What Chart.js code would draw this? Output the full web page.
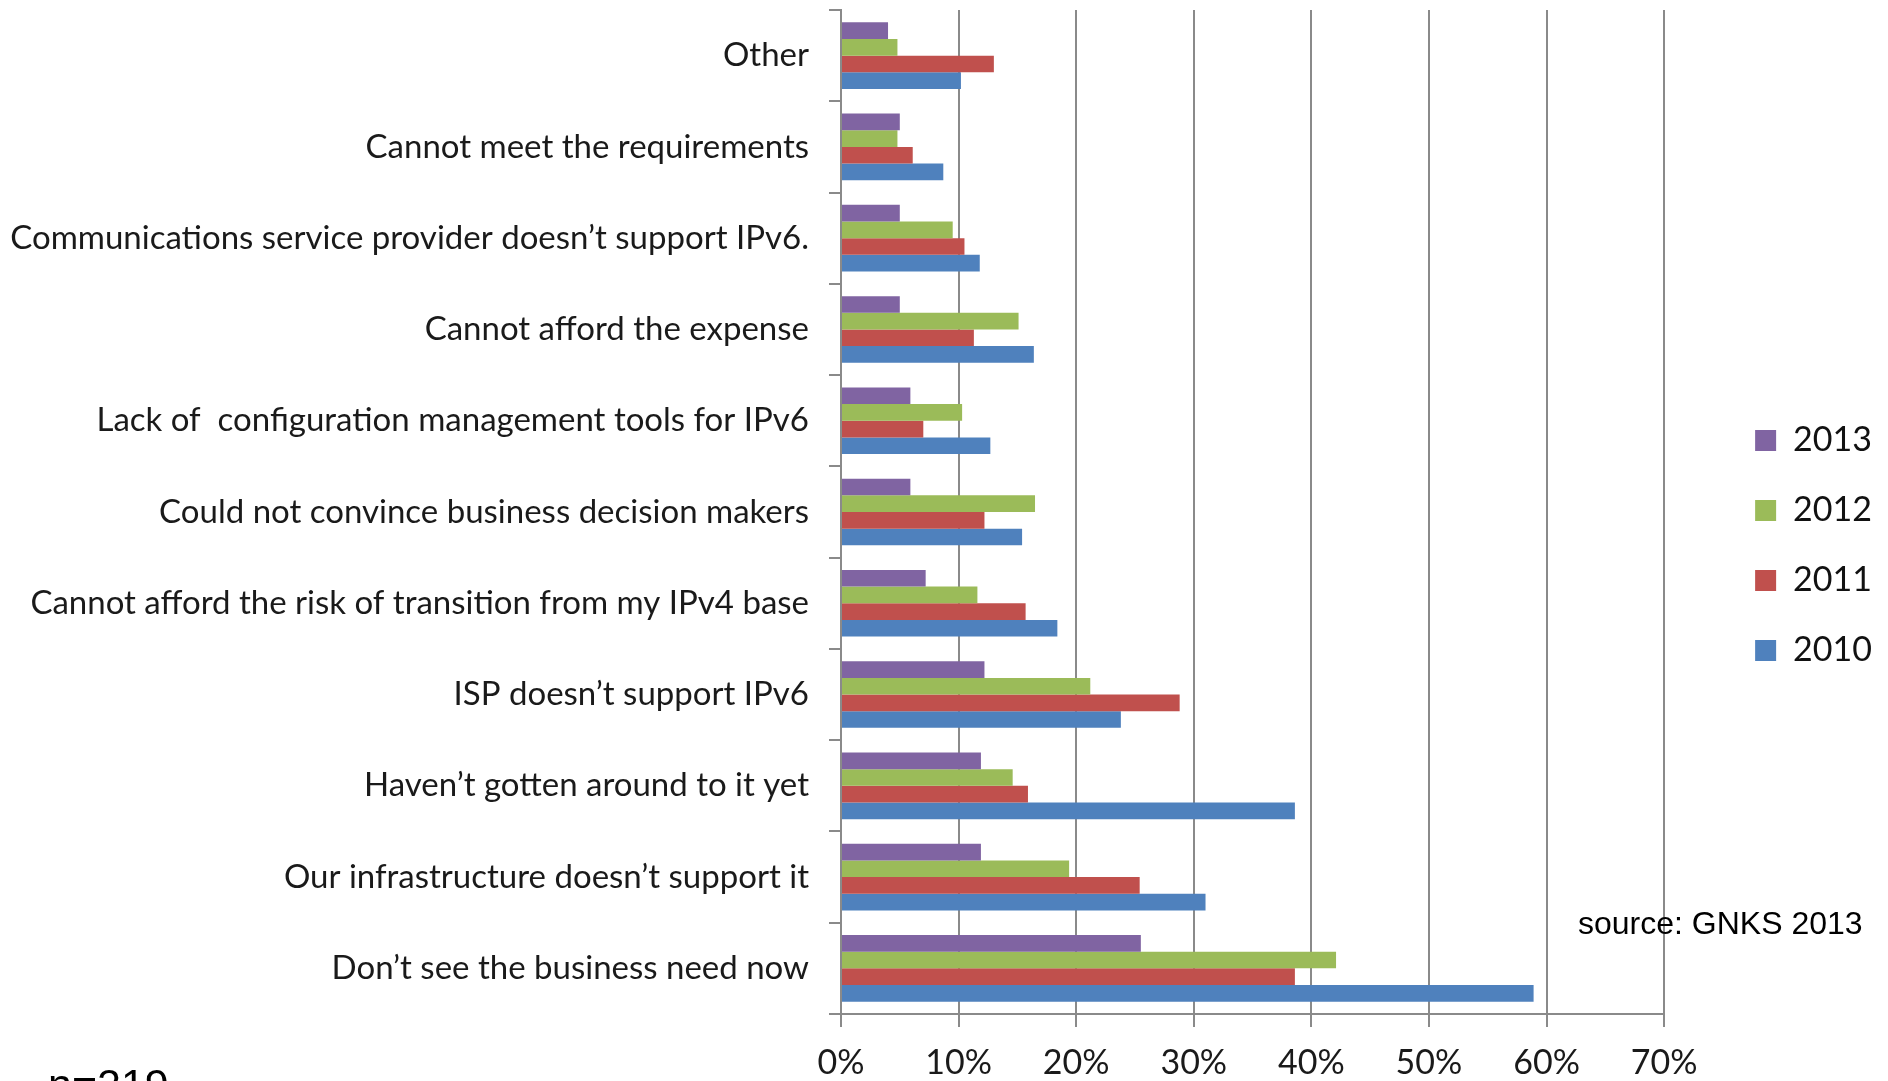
<!DOCTYPE html>
<html>
<head>
<meta charset="utf-8">
<script src="https://cdn.jsdelivr.net/npm/chart.js@4/dist/chart.umd.min.js"></script>
<style>
  html, body { margin: 0; padding: 0; background: #fff; }
  #wrap { width: 1888px; height: 1081px; }
</style>
</head>
<body>
<div id="wrap"><canvas id="reasons" width="1888" height="1081"></canvas></div>
<script>
const categories = [
  "Other",
  "Cannot meet the requirements",
  "Communications service provider doesn\u2019t support IPv6.",
  "Cannot afford the expense",
  "Lack of  configuration management tools for IPv6",
  "Could not convince business decision makers",
  "Cannot afford the risk of transition from my IPv4 base",
  "ISP doesn\u2019t support IPv6",
  "Haven\u2019t gotten around to it yet",
  "Our infrastructure doesn\u2019t support it",
  "Don\u2019t see the business need now"
];
const years = ["2013", "2012", "2011", "2010"];
const y2013 = [4.0, 5.0, 5.0, 5.0, 5.9, 5.9, 7.2, 12.2, 11.9, 11.9, 25.5];
const y2012 = [4.8, 4.8, 9.5, 15.1, 10.3, 16.5, 11.6, 21.2, 14.6, 19.4, 42.1];
const y2011 = [13.0, 6.1, 10.5, 11.3, 7.0, 12.2, 15.7, 28.8, 15.9, 25.4, 38.6];
const y2010 = [10.2, 8.7, 11.8, 16.4, 12.7, 15.4, 18.4, 23.8, 38.6, 31.0, 58.9];
const xTicks = [0, 10, 20, 30, 40, 50, 60, 70];

const colors = ["#8064A2", "#9BBB59", "#C0504D", "#4F81BD"];
const series = [y2013, y2012, y2011, y2010];
const GRID = "#8a8a8a";

// free text under / beside the plot
const notes = {
  id: "notes",
  afterDraw(chart) {
    const ctx = chart.ctx;
    ctx.save();
    ctx.fillStyle = "#000";
    ctx.textBaseline = "alphabetic";
    ctx.textAlign = "left";
    ctx.font = "32px 'Liberation Sans', Arial, sans-serif";
    ctx.fillText("source: GNKS 2013", 1578, 934);
    ctx.font = "43px 'Liberation Sans', Arial, sans-serif";
    ctx.fillText("n=219", 48, 1099);
    ctx.restore();
  }
};

new Chart(document.getElementById("reasons"), {
  type: "bar",
  data: {
    labels: categories,
    datasets: series.map((d, i) => ({
      label: years[i],
      data: d,
      backgroundColor: colors[i],
      borderWidth: 0,
      categoryPercentage: 0.73,
      barPercentage: 1.0
    }))
  },
  options: {
    indexAxis: "y",
    responsive: false,
    animation: false,
    devicePixelRatio: 1,
    layout: { padding: { top: 10, right: 6, left: 0, bottom: 0 } },
    scales: {
      x: {
        min: 0,
        max: 70,
        afterBuildTicks: (s) => { s.ticks = xTicks.map((v) => ({ value: v })); },
        afterFit: (s) => { s.height = 67; s.paddingLeft = 0; s.paddingRight = 0; },
        grid: { color: GRID, lineWidth: 2, tickLength: 13 },
        border: { color: GRID, width: 2 },
        ticks: {
          padding: 16,
          color: "#1a1a1a",
          font: { family: "Lato", size: 34 },
          callback: (v) => v + "%"
        }
      },
      y: {
        afterFit: (s) => { s.width = 841; s.paddingTop = 0; s.paddingBottom = 0; },
        grid: { drawOnChartArea: false, color: GRID, lineWidth: 2, tickLength: 12, offset: true },
        border: { color: GRID, width: 2 },
        ticks: {
          padding: 20,
          color: "#1a1a1a",
          font: { family: "Lato", size: 33 }
        }
      },
      yRight: {
        type: "category",
        position: "right",
        labels: categories,
        afterFit: (s) => { s.width = 55; s.paddingTop = 0; s.paddingBottom = 0; },
        grid: { display: false },
        border: { display: false },
        ticks: { display: false }
      }
    },
    plugins: {
      legend: {
        position: "right",
        align: "center",
        labels: {
          boxWidth: 21,
          boxHeight: 21,
          padding: 36,
          color: "#111",
          font: { family: "Lato", size: 34 }
        }
      },
      tooltip: { enabled: false }
    }
  },
  plugins: [notes]
});
</script>
</body>
</html>
